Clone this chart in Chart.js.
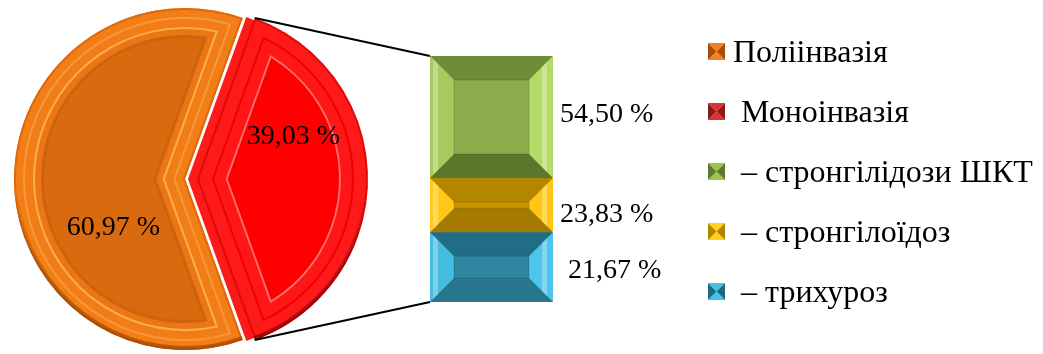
<!DOCTYPE html>
<html><head><meta charset="utf-8">
<script src="https://cdn.jsdelivr.net/npm/chart.js@4.4.1/dist/chart.umd.min.js"></script>
<style>
html,body{margin:0;padding:0;background:#fff;width:1043px;height:354px;overflow:hidden}
#wrap{position:relative;width:1043px;height:354px}
canvas{position:absolute;left:0;top:0}
</style></head><body>
<div id="wrap"><canvas id="pie" width="1043" height="354"></canvas><canvas id="bar" width="1043" height="354"></canvas></div>
<script>
// ---- data ----
const pieLabels = ['Поліінвазія', 'Моноінвазія'];
const pieValues = [60.97, 39.03];
const pieValueLabels = ['60,97 %', '39,03 %'];
const barLabels = ['стронгілідози ШКТ', 'стронгілоїдоз', 'трихуроз'];
const barValues = [49.6, 22.0, 28.4];          // segment heights as drawn in the bar
const barValueLabels = ['54,50 %', '23,83 %', '21,67 %'];

// ---- style ----
const FONT = '"Liberation Serif", "Times New Roman", serif';
const R = 171, EXPLODE = 12;
const pieStyles = [
  {base: '#F47E16', rim: 'rgba(150,60,0,0.6)', inner: '#DA6A10',
   bands: [[0, '#DC6A10'], [2, '#F47E16'], [9, '#F6983A'], [11, '#F27C16'], [19, '#F9AE52'], [21, '#EC7614'], [27, '#CF620E']]},
  {base: '#FF1A1A', rim: 'rgba(140,0,0,0.7)', inner: '#FF0000',
   bands: [[0, '#E00808'], [2, '#FF1A1A'], [14, '#EE0000'], [16, '#FF1616'], [27, '#FF6A6A'], [29, '#F20000']]}
];
const barStyles = [
  {c: '#8AAC4A', t: '#6F8C38', b: '#5C772C', l: '#A6CB5C', r: '#B4DA68'},
  {c: '#C99600', t: '#B38600', b: '#A47A00', l: '#FFC81A', r: '#FFC614'},
  {c: '#2E86A0', t: '#216D86', b: '#28768E', l: '#46BCE0', r: '#4CC6EA'}
];
const legendMarks = [
  {tb: '#F28020', lr: '#A84C08'},
  {tb: '#D43636', lr: '#8A1A1A'},
  {tb: '#9CC450', lr: '#5E7A2E'},
  {tb: '#FFD020', lr: '#B08600'},
  {tb: '#48C0E4', lr: '#1F6A82'}
];

function insetPath(ctx, cx, cy, rad, a1, a2, d) {
  const s = a2 - a1, m = (a1 + a2) / 2;
  const k = d / Math.sin(s / 2);
  const px = k * Math.cos(m), py = k * Math.sin(m);
  const r = rad - d;
  const hit = (a) => {
    const ux = Math.cos(a), uy = Math.sin(a);
    const b = px * ux + py * uy;
    const t = -b + Math.sqrt(Math.max(0, b * b - (px * px + py * py) + r * r));
    return Math.atan2(py + t * uy, px + t * ux);
  };
  ctx.beginPath();
  ctx.moveTo(cx + px, cy + py);
  ctx.arc(cx, cy, r, hit(a1), hit(a2), false);
  ctx.closePath();
}

function arcGeom(arc) {
  const p = arc.getProps(['x', 'y', 'startAngle', 'endAngle', 'outerRadius'], true);
  const off = arc.options.offset || 0;
  const mid = (p.startAngle + p.endAngle) / 2;
  return {cx: p.x + Math.cos(mid) * off, cy: p.y + Math.sin(mid) * off, r: p.outerRadius, a1: p.startAngle, a2: p.endAngle};
}

const pieBevel = {
  id: 'pieBevel',
  afterDatasetsDraw(chart) {
    const ctx = chart.ctx;
    chart.getDatasetMeta(0).data.forEach((arc, i) => {
      const g = arcGeom(arc), st = pieStyles[i];
      ctx.save();
      st.bands.forEach(([d, col]) => {
        insetPath(ctx, g.cx, g.cy, g.r, g.a1, g.a2, d);
        ctx.fillStyle = col; ctx.fill();
      });
      insetPath(ctx, g.cx, g.cy, g.r, g.a1, g.a2, 30);
      ctx.fillStyle = st.inner; ctx.fill();
      // shading on the lower outer rim
      const grd = ctx.createLinearGradient(0, g.cy - g.r, 0, g.cy + g.r);
      grd.addColorStop(0, 'rgba(0,0,0,0)');
      grd.addColorStop(0.55, 'rgba(0,0,0,0)');
      grd.addColorStop(1, st.rim);
      ctx.beginPath();
      ctx.arc(g.cx, g.cy, g.r - 2, g.a1, g.a2, false);
      ctx.strokeStyle = grd; ctx.lineWidth = 4; ctx.stroke();
      ctx.restore();
    });
  }
};

const pieLabelPlugin = {
  id: 'pieValueText',
  afterDraw(chart, args, opts) {
    const ctx = chart.ctx;
    ctx.save();
    ctx.font = '28px ' + FONT;
    ctx.fillStyle = '#000';
    ctx.textAlign = 'center';
    ctx.textBaseline = 'alphabetic';
    chart.getDatasetMeta(0).data.forEach((arc, i) => {
      const g = arcGeom(arc), o = opts.shift[i];
      ctx.fillText(pieValueLabels[i], g.cx + o[0], g.cy + o[1]);
    });
    ctx.restore();
  }
};

const pieChart = new Chart(document.getElementById('pie'), {
  type: 'pie',
  data: {
    labels: pieLabels,
    datasets: [{
      data: pieValues,
      backgroundColor: pieStyles.map(s => s.base),
      borderWidth: 0,
      offset: [0, EXPLODE],
      hoverOffset: 0
    }]
  },
  options: {
    responsive: false,
    animation: false,
    events: [],
    radius: R,
    rotation: 90 + pieValues[1] / 100 * 180,
    layout: {padding: {left: 0, right: 673, top: 4, bottom: 0}},
    plugins: {
      legend: {display: false},
      tooltip: {enabled: false},
      pieValueText: {shift: [[-71.5, 56], [96.5, -35]]}
    }
  },
  plugins: [pieBevel, pieLabelPlugin]
});

// ---- bar + connectors + legend ----
const barBevel = {
  id: 'barBevel',
  afterDatasetsDraw(chart) {
    const ctx = chart.ctx;
    chart.data.datasets.forEach((ds, di) => {
      const el = chart.getDatasetMeta(di).data[0];
      const p = el.getProps(['x', 'y', 'base', 'width'], true);
      const L = p.x - p.width / 2, Rr = p.x + p.width / 2;
      const T = Math.min(p.y, p.base), B = Math.max(p.y, p.base);
      const b = Math.min(24, (B - T) / 2);
      const st = barStyles[di];
      const poly = (pts, col) => {
        ctx.beginPath(); ctx.moveTo(pts[0][0], pts[0][1]);
        pts.slice(1).forEach(q => ctx.lineTo(q[0], q[1]));
        ctx.closePath(); ctx.fillStyle = col; ctx.fill();
      };
      ctx.save();
      poly([[L, T], [Rr, T], [Rr - b, T + b], [L + b, T + b]], st.t);
      poly([[L, B], [Rr, B], [Rr - b, B - b], [L + b, B - b]], st.b);
      poly([[L, T], [L + b, T + b], [L + b, B - b], [L, B]], st.l);
      poly([[Rr, T], [Rr - b, T + b], [Rr - b, B - b], [Rr, B]], st.r);
      ctx.globalAlpha = 0.3;
      poly([[L + 3, T + 3], [L + 8, T + 8], [L + 8, B - 8], [L + 3, B - 3]], '#ffffff');
      poly([[Rr - 6, T + 6], [Rr - 11, T + 11], [Rr - 11, B - 11], [Rr - 6, B - 6]], '#ffffff');
      ctx.globalAlpha = 1;
      ctx.strokeStyle = 'rgba(0,0,0,0.15)'; ctx.lineWidth = 1;
      ctx.strokeRect(L + b, T + b, Rr - L - 2 * b, Math.max(0, B - T - 2 * b));
      ctx.restore();
    });
  }
};

const connectors = {
  id: 'connectors',
  beforeDatasetsDraw(chart) {
    const red = arcGeom(pieChart.getDatasetMeta(0).data[1]);
    const first = chart.getDatasetMeta(0).data[0].getProps(['x', 'y', 'base', 'width'], true);
    const last = chart.getDatasetMeta(chart.data.datasets.length - 1).data[0].getProps(['x', 'y', 'base', 'width'], true);
    const ctx = chart.ctx;
    ctx.save();
    ctx.strokeStyle = '#000'; ctx.lineWidth = 2;
    ctx.beginPath();
    ctx.moveTo(red.cx + red.r * Math.cos(red.a1), red.cy + red.r * Math.sin(red.a1));
    ctx.lineTo(first.x - first.width / 2, Math.min(first.y, first.base));
    ctx.moveTo(red.cx + red.r * Math.cos(red.a2), red.cy + red.r * Math.sin(red.a2));
    ctx.lineTo(last.x - last.width / 2, Math.max(last.y, last.base));
    ctx.stroke();
    ctx.restore();
  }
};

const barText = {
  id: 'barText',
  afterDraw(chart, args, opts) {
    const ctx = chart.ctx;
    ctx.save();
    ctx.font = '28px ' + FONT;
    ctx.fillStyle = '#000';
    ctx.textBaseline = 'alphabetic';
    ctx.textAlign = 'left';
    chart.data.datasets.forEach((ds, di) => {
      const p = chart.getDatasetMeta(di).data[0].getProps(['x', 'y', 'base', 'width'], true);
      const o = opts.shift[di];
      ctx.fillText(barValueLabels[di], p.x + p.width / 2 + o[0], (p.y + p.base) / 2 + o[1]);
    });
    // legend
    const texts = [pieLabels[0], ' ' + pieLabels[1]].concat(barLabels.map(l => ' – ' + l));
    ctx.font = '32px ' + FONT;
    texts.forEach((t, i) => {
      const base = opts.legend.y0 + i * opts.legend.step;
      const mx = opts.legend.markX, my = base - 19, w = 17, h = 17, m = legendMarks[i];
      const tri = (pts, col) => {
        ctx.beginPath(); ctx.moveTo(pts[0][0], pts[0][1]);
        pts.slice(1).forEach(q => ctx.lineTo(q[0], q[1]));
        ctx.closePath(); ctx.fillStyle = col; ctx.fill();
      };
      const cx = mx + w / 2, cy = my + h / 2;
      tri([[mx, my], [mx + w, my], [cx, cy]], m.tb);
      tri([[mx, my + h], [mx + w, my + h], [cx, cy]], m.tb);
      tri([[mx, my], [mx, my + h], [cx, cy]], m.lr);
      tri([[mx + w, my], [mx + w, my + h], [cx, cy]], m.lr);
      ctx.fillStyle = '#000';
      ctx.fillText(t, opts.legend.textX, base);
    });
    ctx.restore();
  }
};

new Chart(document.getElementById('bar'), {
  type: 'bar',
  data: {
    labels: [''],
    datasets: barLabels.map((lab, i) => ({
      label: lab,
      data: [barValues[i]],
      backgroundColor: barStyles[i].c,
      borderWidth: 0,
      barPercentage: 1,
      categoryPercentage: 1,
      stack: 's'
    }))
  },
  options: {
    responsive: false,
    animation: false,
    events: [],
    layout: {padding: {left: 430, right: 490, top: 56, bottom: 52}},
    scales: {
      x: {display: false, stacked: true},
      y: {display: false, stacked: true, min: 0, max: 100, reverse: true}
    },
    plugins: {
      legend: {display: false},
      tooltip: {enabled: false},
      barText: {
        shift: [[7, 5], [7, 17], [15, 11]],
        legend: {markX: 708, textX: 733, y0: 62, step: 60}
      }
    }
  },
  plugins: [connectors, barBevel, barText]
});
</script>
</body></html>
